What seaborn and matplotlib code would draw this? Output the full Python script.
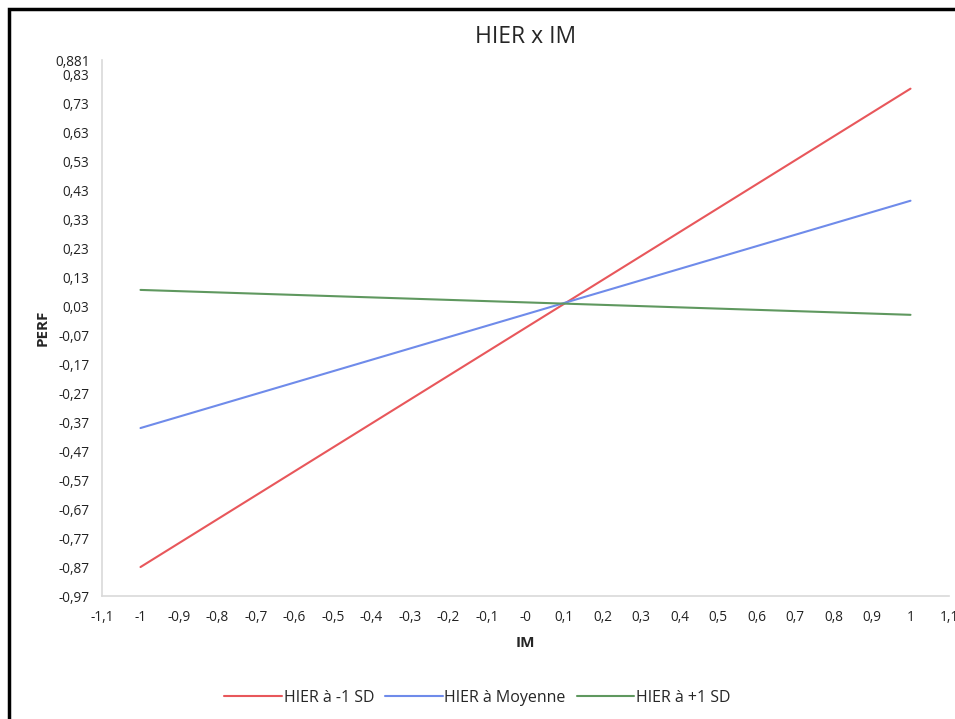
import matplotlib
matplotlib.use("Agg")
import matplotlib.pyplot as plt
from matplotlib.patches import Rectangle
import pandas as pd
import seaborn as sns

# data
im = [-1, 1]
perf_low = [-0.870, 0.782]
perf_mean = [-0.390, 0.395]
perf_high = [0.087, 0.001]
series = ["HIER à -1 SD", "HIER à Moyenne", "HIER à +1 SD"]
colors = ["#e8575b", "#6f8bea", "#5f985f"]

x_ticks = [round(-1.1 + 0.1 * i, 1) for i in range(23)]
x_labels = ["-1,1", "-1", "-0,9", "-0,8", "-0,7", "-0,6", "-0,5", "-0,4", "-0,3", "-0,2", "-0,1",
            "-0", "0,1", "0,2", "0,3", "0,4", "0,5", "0,6", "0,7", "0,8", "0,9", "1", "1,1"]
y_ticks = [round(-0.97 + 0.1 * i, 2) for i in range(19)] + [0.881]
y_labels = [f"{v:.2f}".replace(".", ",") for v in y_ticks[:-1]] + ["0,881"]

df = pd.DataFrame({
    "IM": im * 3,
    "PERF": perf_low + perf_mean + perf_high,
    "serie": [s for s in series for _ in im],
})

sns.set_style("white")
plt.rcParams["font.family"] = ["Open Sans", "DejaVu Sans"]

fig = plt.figure(figsize=(9.55, 7.19), dpi=100)
ax = fig.add_axes([102 / 955, 1 - 596 / 719, 847 / 955, 536 / 719])

sns.lineplot(data=df, x="IM", y="PERF", hue="serie", palette=colors, linewidth=1.5, ax=ax, legend=False)

ax.set_xlim(-1.1, 1.1)
ax.set_ylim(-0.97, 0.881)
ax.set_xticks(x_ticks)
ax.set_xticklabels(x_labels)
ax.set_yticks(y_ticks)
ax.set_yticklabels(y_labels)
ax.set_yticks([round(-0.92 + 0.1 * i, 2) for i in range(18)], minor=True)

for side in ["top", "right"]:
    ax.spines[side].set_visible(False)
for side in ["left", "bottom"]:
    ax.spines[side].set_color("#d9d9d9")
    ax.spines[side].set_linewidth(1.2)
ax.tick_params(axis="both", which="both", direction="out", length=6, width=1.2,
               color="#d9d9d9", labelsize=9.8, labelcolor="#222222")
ax.tick_params(axis="x", pad=4)
ax.tick_params(axis="y", pad=3)

ax.set_xlabel("IM", fontsize=11, fontweight="bold", labelpad=8)
ax.set_ylabel("PERF", fontsize=11, fontweight="bold", labelpad=4)
ax.set_title("HIER x IM", fontsize=16.5, pad=12)

handles = [plt.Line2D([], [], color=c, linewidth=1.5) for c in colors]
fig.legend(handles, series, loc="center", bbox_to_anchor=(0.5, 1 - 698 / 719), ncol=3,
           frameon=False, fontsize=11.5, handlelength=3.6, handletextpad=0.1, columnspacing=0.7)

fig.patches.append(Rectangle((9 / 955, -0.05), 1.2, 1.05 - 9 / 719, transform=fig.transFigure,
                             fill=False, edgecolor="black", linewidth=2.5, clip_on=False))

fig.savefig("out.png", dpi=100)
